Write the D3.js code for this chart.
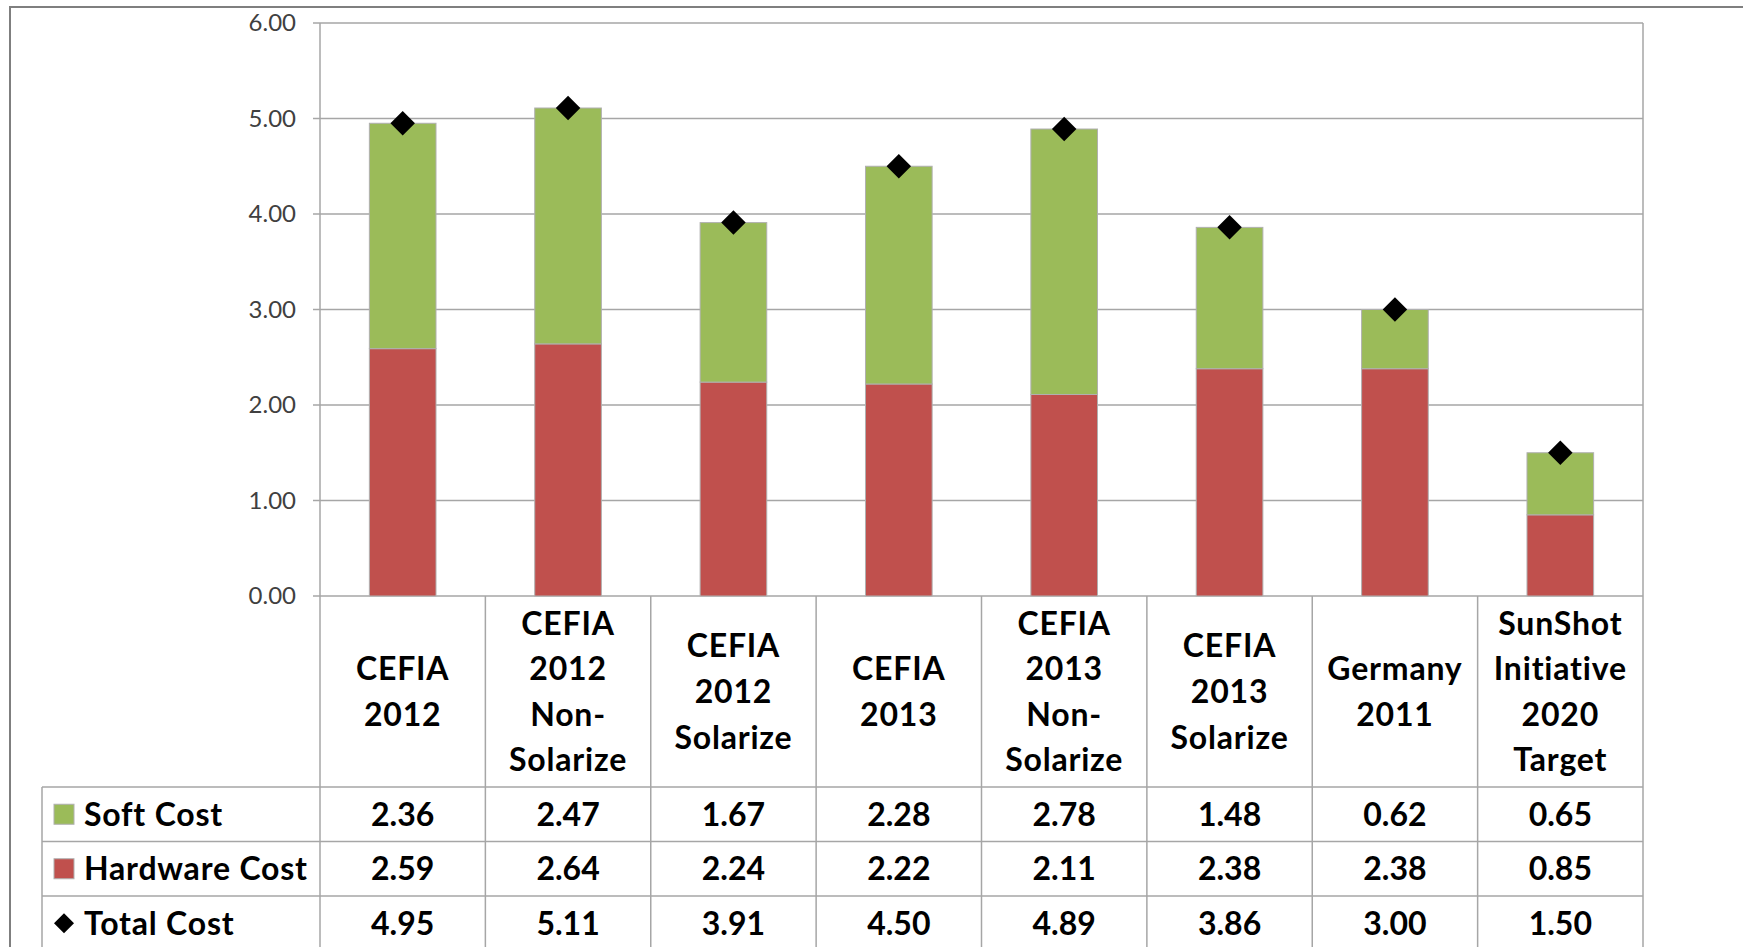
<!DOCTYPE html>
<html>
<head>
<meta charset="utf-8">
<script src="https://cdn.jsdelivr.net/npm/d3@7"></script>
<style>
  body { margin: 0; background: #fff; }
  svg { display: block; }
</style>
</head>
<body>
<svg id="chart" width="1743" height="947"></svg>
<script>
// chart data
var categories = ['CEFIA\n2012', 'CEFIA\n2012\nNon-\nSolarize', 'CEFIA\n2012\nSolarize', 'CEFIA\n2013',
  'CEFIA\n2013\nNon-\nSolarize', 'CEFIA\n2013\nSolarize', 'Germany\n2011', 'SunShot\nInitiative\n2020\nTarget']
var softCost = [2.36, 2.47, 1.67, 2.28, 2.78, 1.48, 0.62, 0.65]
var hardwareCost = [2.59, 2.64, 2.24, 2.22, 2.11, 2.38, 2.38, 0.85]
var totalCost = [4.95, 5.11, 3.91, 4.50, 4.89, 3.86, 3.00, 1.50]
var seriesNames = ['Soft Cost', 'Hardware Cost', 'Total Cost']
var yTicks = [0, 1, 2, 3, 4, 5, 6]

var green = '#9bbb59'
var red = '#c0504d'
var gridColor = '#a6a6a6'
var font = 'Lato, "Open Sans", sans-serif'

var svg = d3.select('#chart')

var plotLeft = 320, plotRight = 1643, plotTop = 23, base = 596
var rowTop = 787, rowH = 54.5

var x = d3.scaleBand()
  .domain(categories)
  .range([plotLeft, plotRight])
  .paddingInner(0.597)
  .paddingOuter(0.2985)

var y = d3.scaleLinear()
  .domain([0, 6])
  .range([base, plotTop])

// outer frame
svg.append('rect')
  .attr('x', 10).attr('y', 7)
  .attr('width', 1800).attr('height', 1000)
  .attr('fill', 'none')
  .attr('stroke', '#7f7f7f')
  .attr('stroke-width', 2)

// gridlines
svg.append('g').selectAll('line')
  .data(yTicks)
  .enter().append('line')
  .attr('x1', plotLeft - 7)
  .attr('x2', plotRight)
  .attr('y1', function (d) { return y(d) })
  .attr('y2', function (d) { return y(d) })
  .attr('stroke', gridColor)
  .attr('stroke-width', 1.5)

// y axis labels
var yAxis = d3.axisLeft(y)
  .tickValues(yTicks)
  .tickFormat(d3.format('.2f'))
  .tickSize(0)
  .tickPadding(24)

var ag = svg.append('g')
  .attr('transform', 'translate(' + plotLeft + ',0)')
  .call(yAxis)
ag.select('.domain').remove()
ag.selectAll('text')
  .attr('font-family', font)
  .attr('font-size', '24px')
  .attr('fill', '#404040')

// stacked bars
var bars = svg.append('g')
bars.selectAll('rect.hw')
  .data(categories)
  .enter().append('rect')
  .attr('class', 'hw')
  .attr('x', function (d) { return x(d) })
  .attr('width', x.bandwidth())
  .attr('y', function (d, i) { return y(hardwareCost[i]) })
  .attr('height', function (d, i) { return y(0) - y(hardwareCost[i]) })
  .attr('fill', red)
  .attr('stroke', '#b0b0b0')
  .attr('stroke-width', 1)

bars.selectAll('rect.soft')
  .data(categories)
  .enter().append('rect')
  .attr('class', 'soft')
  .attr('x', function (d) { return x(d) })
  .attr('width', x.bandwidth())
  .attr('y', function (d, i) { return y(hardwareCost[i] + softCost[i]) })
  .attr('height', function (d, i) { return y(hardwareCost[i]) - y(hardwareCost[i] + softCost[i]) })
  .attr('fill', green)
  .attr('stroke', '#b0b0b0')
  .attr('stroke-width', 1)

// total markers
var diamond = d3.symbol().type(d3.symbolSquare).size(300)
svg.append('g').selectAll('path')
  .data(categories)
  .enter().append('path')
  .attr('d', diamond)
  .attr('transform', function (d, i) {
    return 'translate(' + (x(d) + x.bandwidth() / 2) + ',' + y(totalCost[i]) + ') rotate(45)'
  })
  .attr('fill', '#000')

// data table lines
var step = x.step()
var tbl = svg.append('g')
  .attr('stroke', gridColor)
  .attr('stroke-width', 1.5)

tbl.append('line')
  .attr('x1', plotLeft).attr('x2', plotLeft)
  .attr('y1', plotTop).attr('y2', 947)
tbl.append('line')
  .attr('x1', plotRight).attr('x2', plotRight)
  .attr('y1', plotTop).attr('y2', 947)
tbl.selectAll('line.col')
  .data(d3.range(1, categories.length))
  .enter().append('line')
  .attr('class', 'col')
  .attr('x1', function (d) { return plotLeft + d * step })
  .attr('x2', function (d) { return plotLeft + d * step })
  .attr('y1', base).attr('y2', 947)
tbl.selectAll('line.row')
  .data(d3.range(seriesNames.length))
  .enter().append('line')
  .attr('class', 'row')
  .attr('x1', 42).attr('x2', plotRight)
  .attr('y1', function (d) { return rowTop + d * rowH })
  .attr('y2', function (d) { return rowTop + d * rowH })
tbl.append('line')
  .attr('x1', 42).attr('x2', 42)
  .attr('y1', rowTop).attr('y2', 947)

// category headers
var lineH = 45.6
var headMid = (base + rowTop) / 2
var tableFont = '32px'
svg.append('g').selectAll('text')
  .data(categories)
  .enter().append('text')
  .attr('text-anchor', 'middle')
  .attr('font-family', font)
  .attr('font-weight', 'bold')
  .attr('font-size', tableFont)
  .attr('letter-spacing', '0.8px')
  .attr('fill', '#000')
  .each(function (d) {
    var lines = d.split('\n')
    var t = d3.select(this)
    var cx = x(d) + x.bandwidth() / 2
    lines.forEach(function (ln, k) {
      t.append('tspan')
        .attr('x', cx)
        .attr('y', headMid + (k - (lines.length - 1) / 2) * lineH)
        .attr('dy', '0.36em')
        .text(ln)
    })
  })

// table values
var rows = [softCost, hardwareCost, totalCost]
var fmt = d3.format('.2f')
rows.forEach(function (vals, r) {
  svg.append('g').selectAll('text')
    .data(vals)
    .enter().append('text')
    .attr('x', function (d, i) { return x(categories[i]) + x.bandwidth() / 2 })
    .attr('y', rowTop + r * rowH + rowH / 2)
    .attr('dy', '0.36em')
    .attr('text-anchor', 'middle')
    .attr('font-family', font)
    .attr('font-weight', 'bold')
    .attr('font-size', tableFont)
    .text(function (d) { return fmt(d) })
})

// legend column
var leg = svg.append('g')
seriesNames.forEach(function (name, r) {
  var cy = rowTop + r * rowH + rowH / 2
  if (r < 2) {
    leg.append('rect')
      .attr('x', 54).attr('y', cy - 10)
      .attr('width', 20).attr('height', 20)
      .attr('fill', r === 0 ? green : red)
      .attr('stroke', '#b0b0b0')
  } else {
    leg.append('path')
      .attr('d', d3.symbol().type(d3.symbolSquare).size(200))
      .attr('transform', 'translate(64,' + cy + ') rotate(45)')
      .attr('fill', '#000')
  }
  leg.append('text')
    .attr('x', 84)
    .attr('y', cy)
    .attr('dy', '0.36em')
    .attr('font-family', font)
    .attr('font-weight', 'bold')
    .attr('font-size', tableFont)
    .attr('letter-spacing', '0.8px')
    .text(name)
})
</script>
</body>
</html>
